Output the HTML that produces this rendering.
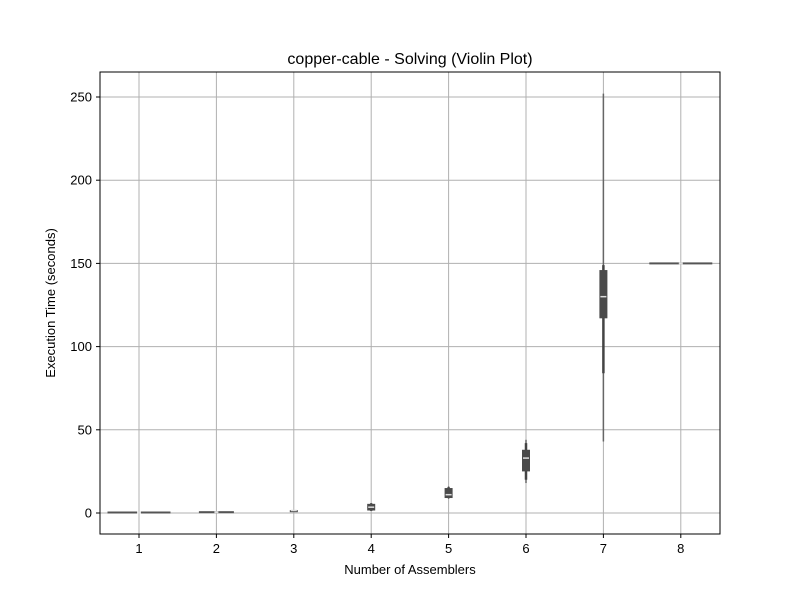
<!DOCTYPE html>
<html><head><meta charset="utf-8"><style>
body{margin:0;background:#fff}
svg text{font-family:"Liberation Sans","DejaVu Sans",sans-serif;fill:#000}
</style></head><body>
<svg id="chart" width="800" height="600" xmlns="http://www.w3.org/2000/svg">
<rect x="0" y="0" width="800" height="600" fill="#fff"/>
<g id="grid"></g>
<g id="marks"></g>
<g id="axes"></g>
<text x="410" y="64" text-anchor="middle" font-size="16">copper-cable - Solving (Violin Plot)</text>
<text x="410" y="574" text-anchor="middle" font-size="13">Number of Assemblers</text>
<text transform="translate(55,303) rotate(-90)" text-anchor="middle" font-size="13">Execution Time (seconds)</text>
</svg>
<script>
const categories=["1","2","3","4","5","6","7","8"];
const mins=[0.3,0.5,1.2,1.2,8.5,18,43,150];
const innerLows=[0.3,0.5,1.3,1.3,9,20,84,150];
const q1s=[0.3,0.5,1.3,1.5,9,25,117,150];
const medians=[0.3,0.5,1.5,3.5,11,33,130,150];
const q3s=[0.3,0.5,1.7,5.5,15,38,146,150];
const innerHighs=[0.3,0.5,1.7,5.8,15.5,42,149,150];
const maxs=[0.3,0.5,1.8,6,16,44,252,150];
const spreads=[0.9,0.5,0.1,0.1,0.1,0.1,0.1,0.9];
const yTicks=[0,50,100,150,200,250];
const L=100,R=720,T=72,B=534;
const y=v=>513-v*(416/250);
const x=i=>139+i*77.4;
const ns="http://www.w3.org/2000/svg";
function mk(tag,attrs,parent){const e=document.createElementNS(ns,tag);for(const k in attrs)e.setAttribute(k,attrs[k]);parent.appendChild(e);return e;}
const grid=document.getElementById('grid'),marks=document.getElementById('marks'),axes=document.getElementById('axes');
yTicks.forEach(t=>{
 const g=mk('line',{x1:L,x2:R,y1:y(t),y2:y(t),stroke:'#b0b0b0','stroke-width':1},grid);
 
 
 mk('line',{x1:L-4,x2:L,y1:y(t),y2:y(t),stroke:'#000'},axes);
 const tx=mk('text',{x:L-8,y:y(t)+4.5,'text-anchor':'end','font-size':13},axes);
 tx.textContent=t;
 
 
});
categories.forEach((c,i)=>{
 const g=mk('line',{x1:x(i),x2:x(i),y1:T,y2:B,stroke:'#b0b0b0','stroke-width':1},grid);
 
 
 mk('line',{x1:x(i),x2:x(i),y1:B,y2:B+4,stroke:'#000'},axes);
 const tx=mk('text',{x:x(i),y:B+19,'text-anchor':'middle','font-size':13},axes);
 tx.textContent=c;
 
 
 const grp=mk('g',{},marks);
 
 
 const hw=spreads[i]*35;
 if(spreads[i]>0.4){
  mk('rect',{x:x(i)-hw,y:y(medians[i])-1,width:hw*2,height:2,fill:'#555'},grp);
  mk('rect',{x:x(i)-2,y:y(medians[i])-1,width:4,height:2,fill:'#ddd'},grp);
 } else {
  mk('line',{x1:x(i),x2:x(i),y1:y(mins[i]),y2:y(maxs[i]),stroke:'#666','stroke-width':1.5},grp);
  mk('line',{x1:x(i),x2:x(i),y1:y(innerLows[i]),y2:y(innerHighs[i]),stroke:'#444','stroke-width':2.5},grp);
  const bh=Math.max(y(q1s[i])-y(q3s[i]),2);
  mk('rect',{x:x(i)-4,y:y(q3s[i]),width:8,height:bh,fill:'#4a4a4a'},grp);
  mk('line',{x1:x(i)-3,x2:x(i)+3,y1:y(medians[i]),y2:y(medians[i]),stroke:'#ddd','stroke-width':1.5},grp);
 }
});
mk('rect',{x:L,y:T,width:R-L,height:B-T,fill:'none',stroke:'#000','stroke-width':1},axes);
</script>
</body></html>
